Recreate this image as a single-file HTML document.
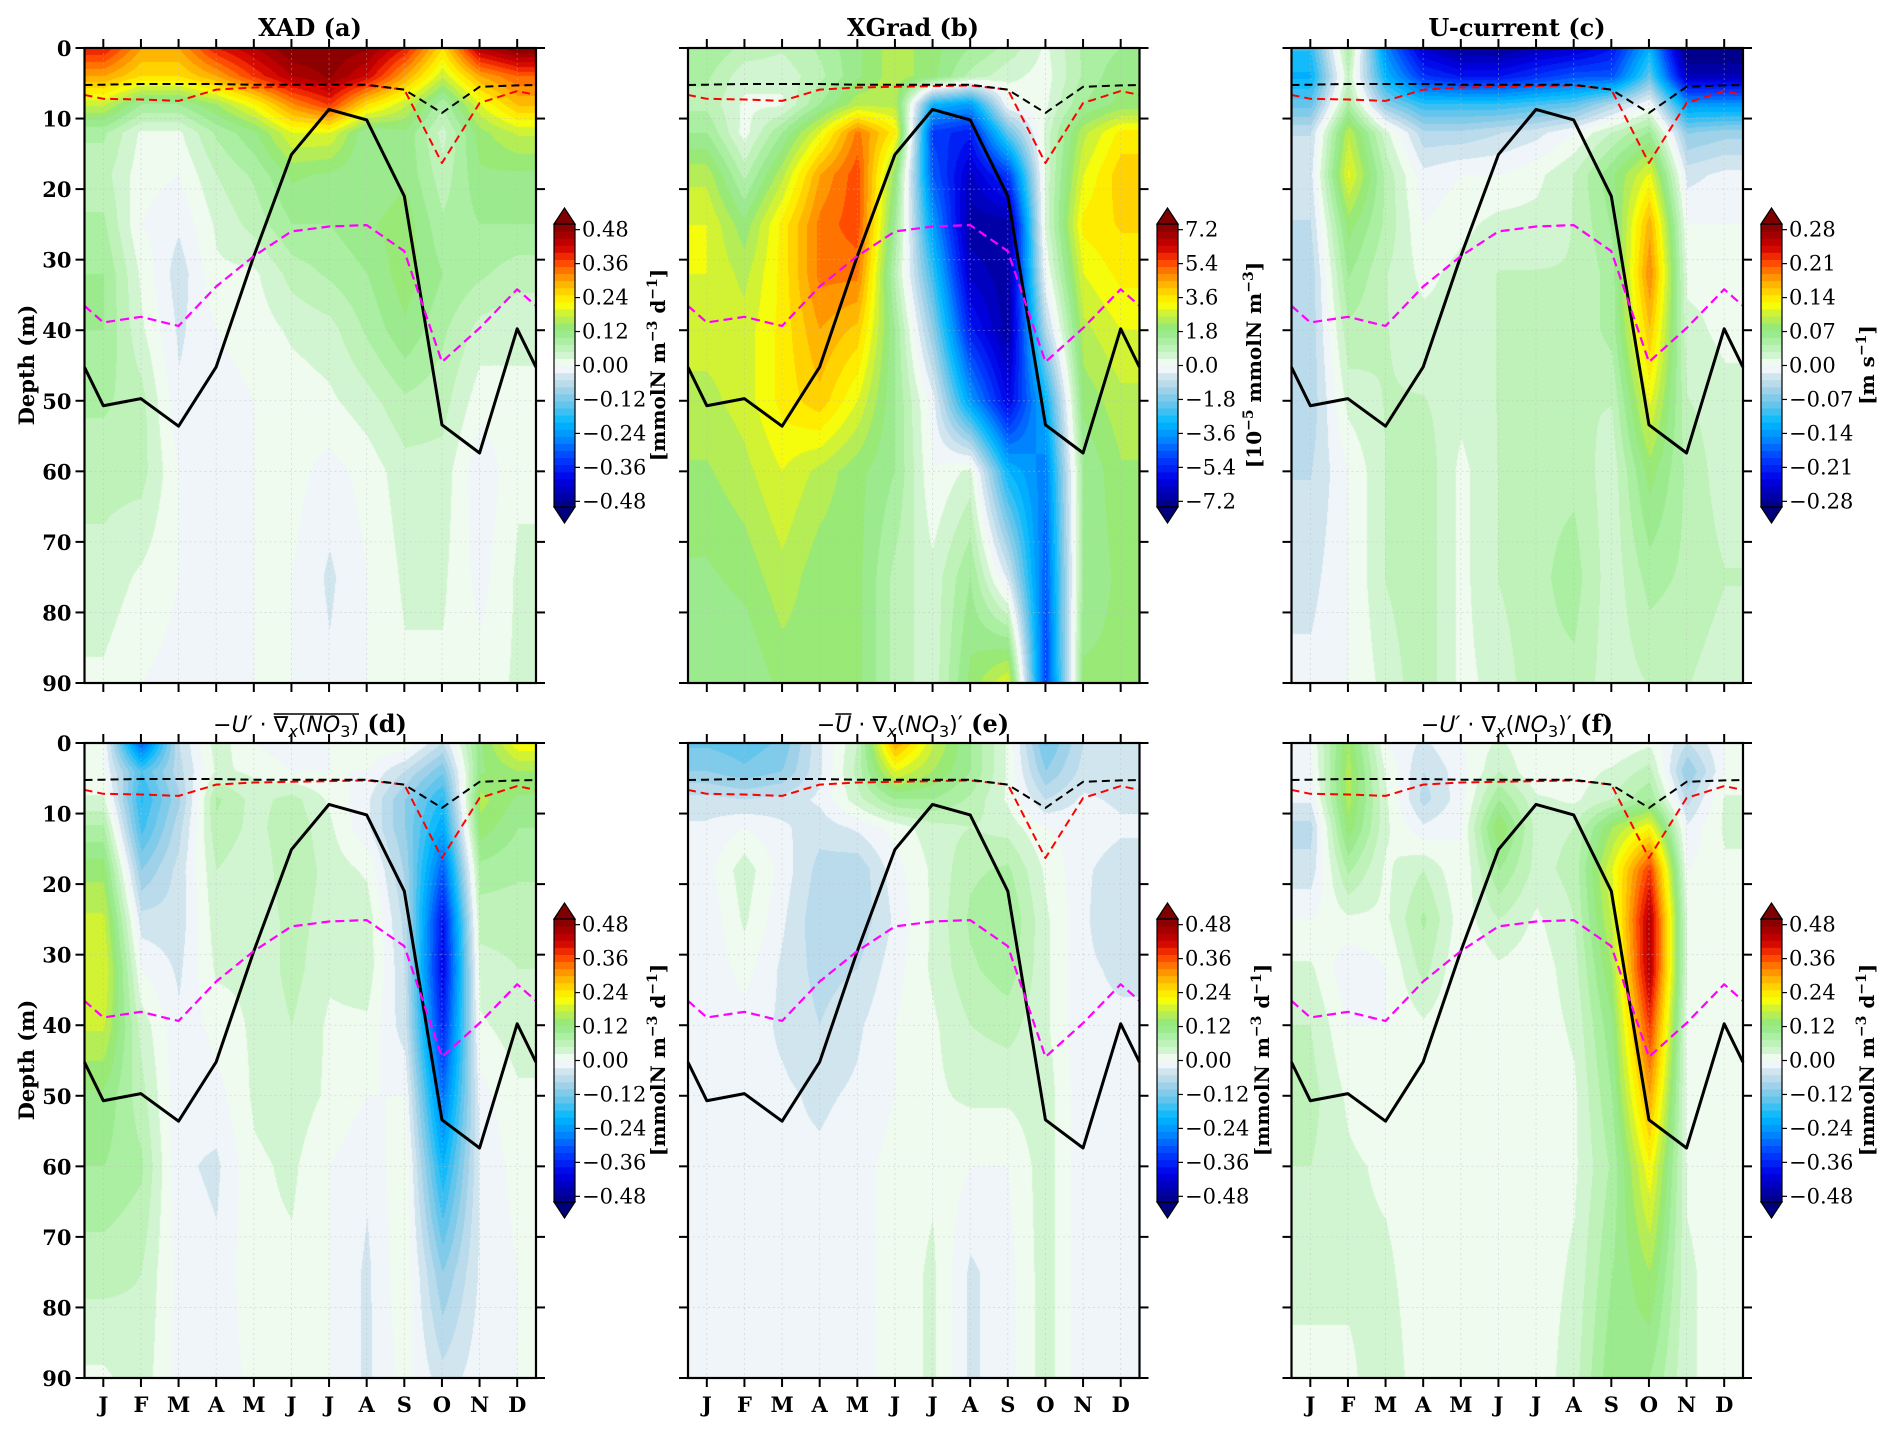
<!DOCTYPE html>
<html><head><meta charset="utf-8"><style>
html,body{margin:0;padding:0;background:#fff}
#root{position:relative;width:1892px;height:1429px;overflow:hidden;background:#fff}
canvas{position:absolute}
#ov{position:absolute;left:0;top:0}
text{font-family:"DejaVu Serif","Liberation Serif",serif}
.m{font-family:"DejaVu Sans","Liberation Sans",sans-serif}
</style></head><body>
<div id="root">
<canvas id="cv-a"></canvas>
<canvas id="cv-b"></canvas>
<canvas id="cv-c"></canvas>
<canvas id="cv-d"></canvas>
<canvas id="cv-e"></canvas>
<canvas id="cv-f"></canvas>
<svg id="ov" width="1892" height="1429" xmlns="http://www.w3.org/2000/svg">
<g id="grid"></g><g id="lines"></g><g id="axes"></g>
<text x="310" y="36" text-anchor="middle" font-size="24" font-weight="bold">XAD (a)</text>
<text x="913" y="36" text-anchor="middle" font-size="24" font-weight="bold">XGrad (b)</text>
<text x="1517" y="36" text-anchor="middle" font-size="24" font-weight="bold">U-current (c)</text>
<text id="td" x="310" y="732" text-anchor="middle" font-size="22"><tspan class="m">−</tspan><tspan class="m" font-style="italic">U′</tspan><tspan class="m"> · ∇</tspan><tspan class="m" font-style="italic" font-size="16" dy="5">x</tspan><tspan class="m" dy="-5">(</tspan><tspan class="m" font-style="italic">NO</tspan><tspan class="m" font-size="16" dy="5">3</tspan><tspan class="m" dy="-5">)</tspan><tspan font-weight="bold" font-size="24"> (d)</tspan></text>
<text id="te" x="913" y="732" text-anchor="middle" font-size="22"><tspan class="m">−</tspan><tspan class="m" font-style="italic">U</tspan><tspan class="m"> · ∇</tspan><tspan class="m" font-style="italic" font-size="16" dy="5">x</tspan><tspan class="m" dy="-5">(</tspan><tspan class="m" font-style="italic">NO</tspan><tspan class="m" font-size="16" dy="5">3</tspan><tspan class="m" dy="-5">)′</tspan><tspan font-weight="bold" font-size="24"> (e)</tspan></text>
<text x="1517" y="732" text-anchor="middle" font-size="22"><tspan class="m">−</tspan><tspan class="m" font-style="italic">U′</tspan><tspan class="m"> · ∇</tspan><tspan class="m" font-style="italic" font-size="16" dy="5">x</tspan><tspan class="m" dy="-5">(</tspan><tspan class="m" font-style="italic">NO</tspan><tspan class="m" font-size="16" dy="5">3</tspan><tspan class="m" dy="-5">)′</tspan><tspan font-weight="bold" font-size="24"> (f)</tspan></text>
<text transform="translate(34,365) rotate(-90)" text-anchor="middle" font-size="21" font-weight="bold">Depth (m)</text>
<text transform="translate(34,1060) rotate(-90)" text-anchor="middle" font-size="21" font-weight="bold">Depth (m)</text>
<text transform="translate(665,365) rotate(-90)" text-anchor="middle" font-size="20" font-weight="bold">[mmolN m<tspan font-size="14" dy="-8">−3</tspan><tspan dy="8"> d</tspan><tspan font-size="14" dy="-8">−1</tspan><tspan dy="8">]</tspan></text>
<text transform="translate(1261,365) rotate(-90)" text-anchor="middle" font-size="20" font-weight="bold">[10<tspan font-size="14" dy="-8">−5</tspan><tspan dy="8"> mmolN m</tspan><tspan font-size="14" dy="-8">−3</tspan><tspan dy="8">]</tspan></text>
<text transform="translate(1874,365) rotate(-90)" text-anchor="middle" font-size="20" font-weight="bold">[m s<tspan font-size="14" dy="-8">−1</tspan><tspan dy="8">]</tspan></text>
<text transform="translate(665,1060) rotate(-90)" text-anchor="middle" font-size="20" font-weight="bold">[mmolN m<tspan font-size="14" dy="-8">−3</tspan><tspan dy="8"> d</tspan><tspan font-size="14" dy="-8">−1</tspan><tspan dy="8">]</tspan></text>
<text transform="translate(1269,1060) rotate(-90)" text-anchor="middle" font-size="20" font-weight="bold">[mmolN m<tspan font-size="14" dy="-8">−3</tspan><tspan dy="8"> d</tspan><tspan font-size="14" dy="-8">−1</tspan><tspan dy="8">]</tspan></text>
<text transform="translate(1874,1060) rotate(-90)" text-anchor="middle" font-size="20" font-weight="bold">[mmolN m<tspan font-size="14" dy="-8">−3</tspan><tspan dy="8"> d</tspan><tspan font-size="14" dy="-8">−1</tspan><tspan dy="8">]</tspan></text>
</svg>
</div>
<script>
const months=['J','F','M','A','M','J','J','A','S','O','N','D'];
const depthLevels=[0,4,8,12,18,25,32,40,50,60,75,90];
const depthTicks=[0,10,20,30,40,50,60,70,80,90];
const mldSolid=[50.7,49.7,53.6,45.2,29.5,15.1,8.7,10.2,21.0,53.4,57.4,39.8];
const magentaDash=[38.9,38.1,39.4,33.8,29.5,26.0,25.3,25.1,28.8,44.5,39.7,34.2];
const redDash=[7.2,7.3,7.5,5.9,5.6,5.5,5.4,5.3,5.9,16.3,7.8,6.1];
const blackDash=[5.2,5.1,5.1,5.1,5.2,5.2,5.2,5.2,5.9,9.2,5.5,5.3];
const ticksA=['0.48','0.36','0.24','0.12','0.00','−0.12','−0.24','−0.36','−0.48'];
const ticksB=['7.2','5.4','3.6','1.8','0.0','−1.8','−3.6','−5.4','−7.2'];
const ticksC=['0.28','0.21','0.14','0.07','0.00','−0.07','−0.14','−0.21','−0.28'];
const valsA=[
[0.40,0.30,0.30,0.40,0.45,0.50,0.50,0.48,0.40,0.25,0.45,0.50],
[0.30,0.25,0.25,0.30,0.38,0.45,0.48,0.42,0.30,0.18,0.30,0.35],
[0.18,0.10,0.10,0.15,0.22,0.32,0.38,0.25,0.18,0.08,0.20,0.28],
[0.08,0.02,0.02,0.08,0.12,0.20,0.20,0.10,0.12,0.04,0.14,0.18],
[0.06,0.01,0.00,0.05,0.08,0.13,0.12,0.10,0.12,0.06,0.12,0.12],
[0.08,0.00,-0.02,0.03,0.06,0.10,0.10,0.12,0.14,0.08,0.10,0.10],
[0.10,0.02,-0.04,0.02,0.02,0.06,0.08,0.10,0.14,0.10,0.08,0.06],
[0.10,0.03,-0.03,0.00,0.01,0.03,0.04,0.08,0.12,0.08,0.04,0.03],
[0.08,0.06,-0.02,-0.01,0.00,0.01,0.02,0.04,0.07,0.06,0.01,0.02],
[0.06,0.06,0.00,-0.01,0.00,0.01,-0.01,0.01,0.04,0.04,-0.02,0.02],
[0.04,0.02,0.00,-0.01,0.00,0.00,-0.03,0.00,0.03,0.03,-0.01,0.03],
[0.02,0.00,-0.01,-0.01,0.00,0.00,-0.02,0.00,0.02,0.02,0.01,0.03]];
const valsB=[
[1.5,1.0,0.8,1.2,1.8,2.5,2.0,1.5,1.0,0.3,1.2,1.5],
[1.2,0.5,0.5,1.0,1.8,2.5,2.0,1.0,0.5,0.2,1.2,1.8],
[1.0,0.3,0.3,1.5,2.5,2.5,-3.0,-3.5,0.0,0.3,1.5,2.0],
[1.5,0.2,1.5,3.0,5.0,3.5,-5.0,-5.5,-2.0,0.5,2.5,3.5],
[2.5,1.0,2.5,4.5,5.5,2.0,-4.5,-6.5,-5.0,0.5,3.0,4.0],
[3.0,2.0,3.5,5.0,5.5,1.5,-3.5,-7.0,-7.0,0.5,3.5,3.8],
[3.0,2.5,3.5,5.0,5.0,1.0,-2.5,-6.5,-7.0,0.0,3.0,3.5],
[2.8,2.8,3.5,4.5,4.0,1.5,-1.5,-5.5,-7.0,-1.0,2.5,3.0],
[2.5,2.8,3.5,4.0,3.0,1.5,-0.2,-3.5,-6.0,-3.0,2.0,2.5],
[2.2,2.5,3.0,2.5,2.0,1.5,0.0,0.5,-3.0,-4.0,1.5,2.2],
[1.8,2.0,2.5,2.0,2.0,1.0,0.5,1.5,-0.5,-4.5,1.5,2.0],
[1.5,1.5,2.0,2.0,2.0,1.0,0.5,2.0,3.0,-5.0,2.0,2.0]];
const valsC=[
[-0.10,0.05,-0.15,-0.25,-0.28,-0.28,-0.26,-0.25,-0.22,-0.12,-0.30,-0.30],
[-0.12,0.03,-0.12,-0.20,-0.22,-0.22,-0.20,-0.18,-0.18,-0.08,-0.26,-0.26],
[-0.08,0.05,-0.06,-0.10,-0.10,-0.10,-0.09,-0.08,-0.04,0.00,-0.14,-0.14],
[-0.03,0.10,0.02,-0.04,-0.04,-0.03,-0.02,0.00,0.03,0.06,-0.06,-0.05],
[-0.02,0.12,0.04,-0.01,0.00,0.00,0.01,0.03,0.07,0.12,-0.02,-0.01],
[-0.03,0.08,0.04,0.00,0.01,0.02,0.02,0.03,0.06,0.17,0.00,0.00],
[-0.04,0.06,0.03,0.01,0.02,0.03,0.03,0.03,0.05,0.19,0.01,0.01],
[-0.04,0.04,0.03,0.02,0.02,0.03,0.03,0.03,0.05,0.16,0.02,0.01],
[-0.04,0.02,0.03,0.03,0.02,0.03,0.04,0.03,0.03,0.12,0.03,0.02],
[-0.03,0.00,0.03,0.04,0.01,0.03,0.04,0.04,0.02,0.08,0.04,0.02],
[-0.02,0.00,0.03,0.04,0.01,0.03,0.04,0.05,0.02,0.05,0.04,0.03],
[-0.01,0.00,0.02,0.04,0.01,0.02,0.04,0.04,0.02,0.03,0.03,0.02]];
const valsD=[
[0.00,-0.30,-0.05,0.04,0.00,-0.02,0.00,0.02,0.02,-0.05,0.12,0.22],
[0.00,-0.15,-0.06,0.03,0.02,0.00,0.00,0.00,-0.05,-0.12,0.12,0.15],
[0.03,-0.18,-0.08,0.08,0.04,0.06,0.02,-0.02,-0.10,-0.18,0.16,0.12],
[0.08,-0.16,-0.06,0.07,0.04,0.07,0.03,-0.02,-0.10,-0.22,0.14,0.10],
[0.14,-0.10,-0.04,0.05,0.03,0.07,0.04,0.02,-0.08,-0.30,0.09,0.08],
[0.18,-0.04,-0.04,0.04,0.03,0.06,0.04,0.04,-0.06,-0.38,0.06,0.06],
[0.20,0.00,-0.03,0.03,0.03,0.06,0.03,0.04,-0.05,-0.40,0.04,0.05],
[0.18,0.04,-0.02,0.01,0.03,0.05,0.02,0.02,-0.04,-0.36,0.02,0.04],
[0.12,0.06,-0.02,-0.01,0.03,0.04,0.02,0.00,0.00,-0.28,-0.01,0.02],
[0.10,0.08,-0.02,-0.03,0.02,0.03,0.00,-0.02,0.02,-0.20,-0.02,0.01],
[0.06,0.05,-0.01,-0.02,0.02,0.02,0.00,-0.03,0.02,-0.10,-0.02,0.00],
[0.02,0.04,-0.01,-0.02,0.01,0.01,0.00,-0.03,0.01,-0.04,-0.01,0.00]];
const valsE=[
[-0.13,-0.14,-0.12,-0.03,0.05,0.30,0.18,0.10,0.02,-0.13,-0.05,-0.05],
[-0.10,-0.12,-0.10,-0.03,0.06,0.20,0.15,0.10,0.02,-0.10,-0.04,-0.04],
[-0.04,-0.05,-0.04,-0.02,0.04,0.10,0.10,0.07,0.02,-0.05,-0.02,-0.03],
[-0.02,0.00,-0.02,-0.04,-0.02,0.01,0.04,0.05,0.04,0.00,-0.01,-0.02],
[-0.01,0.04,-0.01,-0.06,-0.07,-0.01,0.03,0.07,0.08,0.02,-0.02,-0.04],
[-0.02,0.03,-0.02,-0.07,-0.07,-0.02,0.03,0.08,0.10,0.03,-0.02,-0.05],
[-0.02,0.01,-0.03,-0.06,-0.05,-0.01,0.03,0.07,0.09,0.03,-0.02,-0.03],
[-0.02,-0.01,-0.03,-0.05,-0.03,0.00,0.02,0.05,0.06,0.03,-0.02,-0.02],
[-0.02,-0.02,-0.02,-0.03,-0.02,0.00,0.02,0.03,0.03,0.04,-0.02,-0.02],
[-0.02,-0.02,-0.02,-0.02,-0.01,0.01,0.02,0.00,0.00,0.04,-0.02,-0.02],
[-0.02,-0.02,-0.01,-0.01,-0.01,0.01,0.03,-0.03,-0.01,0.04,-0.02,-0.02],
[-0.02,-0.02,-0.01,-0.01,-0.01,0.01,0.03,-0.03,-0.01,0.04,-0.02,-0.02]];
const valsF=[
[0.00,0.15,0.00,-0.03,0.00,0.03,0.00,0.00,0.00,0.02,-0.05,0.00],
[-0.01,0.16,0.02,-0.05,-0.01,0.05,0.00,0.01,0.03,0.06,-0.10,0.00],
[-0.02,0.16,0.03,-0.06,-0.01,0.10,0.03,0.02,0.05,0.10,-0.06,0.03],
[-0.06,0.14,0.03,-0.02,0.00,0.15,0.04,0.05,0.15,0.22,-0.02,0.03],
[-0.04,0.08,0.02,0.05,0.00,0.10,0.04,0.06,0.20,0.38,0.00,0.02],
[0.00,0.02,0.02,0.08,0.01,0.05,0.02,0.05,0.18,0.45,0.02,0.02],
[0.03,-0.02,0.00,0.06,0.00,0.02,0.01,0.04,0.15,0.45,0.02,0.01],
[0.05,0.00,0.00,0.02,0.00,0.01,0.01,0.03,0.12,0.38,0.01,0.01],
[0.06,0.02,0.00,0.01,0.00,0.01,0.01,0.02,0.10,0.30,0.01,0.01],
[0.05,0.03,0.02,0.01,0.00,0.01,0.01,0.02,0.08,0.22,0.02,0.01],
[0.03,0.03,0.03,0.01,0.00,0.01,0.01,0.03,0.10,0.15,0.03,0.01],
[0.02,0.02,0.04,0.01,0.00,0.00,0.01,0.04,0.12,0.10,0.03,0.01]];

const W=451.5,H=635;
const panels=[
 {id:'a',x:84.5,y:48,vals:valsA,vmax:0.5,ticks:ticksA,ylab:true,xlab:false,cbx:554},
 {id:'b',x:688,y:48,vals:valsB,vmax:7.5,ticks:ticksB,ylab:false,xlab:false,cbx:1157},
 {id:'c',x:1291.5,y:48,vals:valsC,vmax:0.2917,ticks:ticksC,ylab:false,xlab:false,cbx:1761},
 {id:'d',x:84.5,y:743,vals:valsD,vmax:0.5,ticks:ticksA,ylab:true,xlab:true,cbx:554},
 {id:'e',x:688,y:743,vals:valsE,vmax:0.5,ticks:ticksA,ylab:false,xlab:true,cbx:1157},
 {id:'f',x:1291.5,y:743,vals:valsF,vmax:0.5,ticks:ticksA,ylab:false,xlab:true,cbx:1761}];

const stops=[[-1,'00007f'],[-0.8,'0000e8'],[-0.65,'0040ff'],[-0.5,'0090ff'],[-0.4,'00b8ff'],[-0.28,'60c4ec'],[-0.16,'a8d4e8'],[-0.06,'d8e8f0'],[0,'ffffff'],[0.06,'d8f6d8'],[0.16,'b0f0a8'],[0.26,'90e880'],[0.36,'c8f040'],[0.44,'ffff00'],[0.56,'ffc000'],[0.66,'ff8000'],[0.74,'ff4000'],[0.84,'d00000'],[1,'7f0000']];
function hex(h){return [parseInt(h.slice(0,2),16),parseInt(h.slice(2,4),16),parseInt(h.slice(4,6),16)];}
function cmap(t){
 t=Math.max(-1,Math.min(1,t));
 for(let i=0;i<stops.length-1;i++){
  if(t<=stops[i+1][0]){const a=stops[i],b=stops[i+1];const f=(t-a[0])/(b[0]-a[0]);const ca=hex(a[1]),cb=hex(b[1]);return [0,1,2].map(k=>Math.round(ca[k]+(cb[k]-ca[k])*f));}
 }
 return hex('7f0000');
}
function quant(t){let q=(Math.floor(t*20)+0.5)/20;return Math.max(-0.975,Math.min(0.975,q));}
const NS='http://www.w3.org/2000/svg';
function mk(tag,attrs,parent){const e=document.createElementNS(NS,tag);for(const k in attrs)e.setAttribute(k,attrs[k]);(parent||document.getElementById('axes')).appendChild(e);return e;}

panels.forEach(p=>{
 const xs=m=>p.x+(m+0.5)/12*W;
 const ys=d=>p.y+d/90*H;
 const cv=document.getElementById('cv-'+p.id);
 const cw=Math.round(W),ch=H;
 cv.width=cw;cv.height=ch;cv.style.left=p.x+'px';cv.style.top=p.y+'px';
 const ctx=cv.getContext('2d');const img=ctx.createImageData(cw,ch);
 for(let py=0;py<ch;py++){
  const d=(py+0.5)/ch*90;let j=0;while(j<depthLevels.length-2&&d>depthLevels[j+1])j++;
  const fy=(d-depthLevels[j])/(depthLevels[j+1]-depthLevels[j]);
  for(let px=0;px<cw;px++){
   let m=(px+0.5)/cw*12-0.5;m=Math.max(0,Math.min(11,m));
   const i=Math.min(10,Math.floor(m));const fx=m-i;
   const r0=p.vals[j],r1=p.vals[j+1];
   const v=(r0[i]*(1-fx)+r0[i+1]*fx)*(1-fy)+(r1[i]*(1-fx)+r1[i+1]*fx)*fy;
   const c=cmap(quant(v/p.vmax));const o=(py*cw+px)*4;
   img.data[o]=c[0];img.data[o+1]=c[1];img.data[o+2]=c[2];img.data[o+3]=255;
  }
 }
 ctx.putImageData(img,0,0);
 const grid=document.getElementById('grid');
 months.forEach((mn,i)=>{
  const g=mk('line',{x1:xs(i),x2:xs(i),y1:p.y,y2:p.y+H,stroke:'#bbb','stroke-width':0.8,'stroke-dasharray':'2,3',opacity:0.5},grid);
  
  
 });
 depthTicks.forEach(d=>{
  const g=mk('line',{x1:p.x,x2:p.x+W,y1:ys(d),y2:ys(d),stroke:'#bbb','stroke-width':0.8,'stroke-dasharray':'2,3',opacity:0.5},grid);
  
  
 });
 const lg=document.getElementById('lines');
 const series=[[mldSolid,'#000',3,'none','mld-line'],[magentaDash,'#ff00ff',2.2,'9,5','magenta-dashed-line'],[redDash,'#ff0000',2,'8,5','red-dashed-line'],[blackDash,'#000',2,'8,5','black-dashed-line']];
 series.forEach(s=>{
  const arr=s[0];const edge=(arr[0]+arr[11])/2;
  let pts=xs(-0.5)+','+ys(edge);
  arr.forEach((v,i)=>{pts+=' '+xs(i)+','+ys(v);});
  pts+=' '+xs(11.5)+','+ys(edge);
  const pl=mk('polyline',{points:pts,fill:'none',stroke:s[1],'stroke-width':s[2],'stroke-dasharray':s[3],'stroke-linejoin':'round'},lg);
  
  
 });
 const fr=mk('rect',{x:p.x,y:p.y,width:W,height:H,fill:'none',stroke:'#000','stroke-width':2.2});
 
 
 months.forEach((mn,i)=>{
  const t1=mk('line',{x1:xs(i),x2:xs(i),y1:p.y-9,y2:p.y,stroke:'#000','stroke-width':2});
  
  
  const t2=mk('line',{x1:xs(i),x2:xs(i),y1:p.y+H,y2:p.y+H+9,stroke:'#000','stroke-width':2});
  
  
  if(p.xlab){
   const tl=mk('text',{x:xs(i),y:p.y+H+34,'text-anchor':'middle','font-size':21,'font-weight':'bold'});
   tl.textContent=mn;
   
   
  }
 });
 depthTicks.forEach(d=>{
  const t1=mk('line',{x1:p.x-9,x2:p.x,y1:ys(d),y2:ys(d),stroke:'#000','stroke-width':2});
  
  
  const t2=mk('line',{x1:p.x+W,x2:p.x+W+9,y1:ys(d),y2:ys(d),stroke:'#000','stroke-width':2});
  
  
  if(p.ylab){
   const tl=mk('text',{x:p.x-13,y:ys(d)+8,'text-anchor':'end','font-size':21,'font-weight':'bold'});
   tl.textContent=String(d);
   
   
  }
 });
 const cbTop=p.y+176,cbBot=p.y+459,cbW=21,cx=p.cbx;
 const nlev=40;
 for(let k=0;k<nlev;k++){
  const t=-1+(k+0.5)*2/nlev;const c=cmap(quant(t));
  const y1=cbBot-(k+1)*(cbBot-cbTop)/nlev;
  const r=mk('rect',{x:cx,y:y1,width:cbW,height:(cbBot-cbTop)/nlev+0.6,fill:'rgb('+c.join(',')+')'});
  
  
 }
 const ct=cmap(1),cb=cmap(-1);
 const tri1=mk('polygon',{points:cx+','+cbTop+' '+(cx+cbW/2)+','+(cbTop-16)+' '+(cx+cbW)+','+cbTop,fill:'rgb('+ct.join(',')+')',stroke:'#000','stroke-width':1.2});
 
 
 const tri2=mk('polygon',{points:cx+','+cbBot+' '+(cx+cbW/2)+','+(cbBot+16)+' '+(cx+cbW)+','+cbBot,fill:'rgb('+cb.join(',')+')',stroke:'#000','stroke-width':1.2});
 
 
 const ob=mk('rect',{x:cx,y:cbTop,width:cbW,height:cbBot-cbTop,fill:'none',stroke:'#000','stroke-width':1.2});
 
 
 p.ticks.forEach((lab,k)=>{
  const frac=0.98-k*0.12;
  const y=cbBot-frac*(cbBot-cbTop);
  const tk=mk('line',{x1:cx+cbW,x2:cx+cbW+5,y1:y,y2:y,stroke:'#000','stroke-width':1.2});
  
  
  const tl=mk('text',{x:cx+cbW+7,y:y+7,'font-size':21});
  tl.textContent=lab;
  
  
 });
});
function overline(id,c0,c1){
 const t=document.getElementById(id);
 try{const a=t.getExtentOfChar(c0),b=t.getExtentOfChar(c1);
  const l=mk('line',{x1:a.x,x2:b.x+b.width,y1:a.y+1,y2:a.y+1,stroke:'#000','stroke-width':1.5});
  
  
 }catch(e){}
}
overline('td',6,12);
overline('te',1,1);
</script>
</body></html>
